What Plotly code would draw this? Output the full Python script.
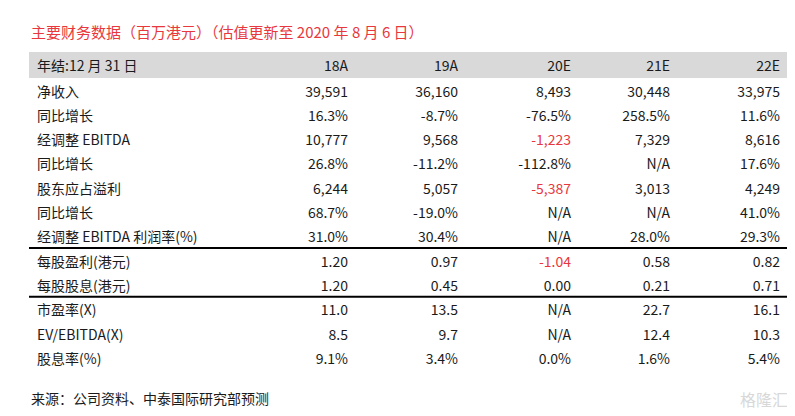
import plotly.graph_objects as go

W, H = 795, 416

header = ["年结:12 月 31 日", "18A", "19A", "20E", "21E", "22E"]
labels = ["净收入", "同比增长", "经调整 EBITDA", "同比增长", "股东应占溢利", "同比增长",
          "经调整 EBITDA 利润率(%)", "每股盈利(港元)", "每股股息(港元)",
          "市盈率(X)", "EV/EBITDA(X)", "股息率(%)"]
y18a = ["39,591", "16.3%", "10,777", "26.8%", "6,244", "68.7%", "31.0%", "1.20", "1.20", "11.0", "8.5", "9.1%"]
y19a = ["36,160", "-8.7%", "9,568", "-11.2%", "5,057", "-19.0%", "30.4%", "0.97", "0.45", "13.5", "9.7", "3.4%"]
y20e = ["8,493", "-76.5%", "-1,223", "-112.8%", "-5,387", "N/A", "N/A", "-1.04", "0.00", "N/A", "N/A", "0.0%"]
y21e = ["30,448", "258.5%", "7,329", "N/A", "3,013", "N/A", "28.0%", "0.58", "0.21", "22.7", "12.4", "1.6%"]
y22e = ["33,975", "11.6%", "8,616", "17.6%", "4,249", "41.0%", "29.3%", "0.82", "0.71", "16.1", "10.3", "5.4%"]
red_cells = {"-1,223", "-5,387", "-1.04"}

cols = [labels, y18a, y19a, y20e, y21e, y22e]
colors = [["#1a1a1a"] * len(labels)] + [["#e8383d" if v in red_cells else "#1a1a1a" for v in c] for c in cols[1:]]

font = "Noto Sans CJK SC, Liberation Serif"
x0, x1 = 21, 780
off = -8
top, hh, rh = 52 + off, 26, 24.3

fig = go.Figure(go.Table(
    domain=dict(x=[x0 / W, x1 / W], y=[0, 1 - top / H]),
    columnwidth=[224, 103, 110, 113, 99, 110],
    header=dict(values=header, fill_color="#d9d9d9", line_color="rgba(0,0,0,0)",
                align=["left"] + ["right"] * 5, height=hh,
                font=dict(family=font, size=14, color="#1a1a1a")),
    cells=dict(values=cols, fill_color="white", line_color="rgba(0,0,0,0)",
               align=["left"] + ["right"] * 5, height=rh,
               font=dict(family=font, size=14, color=colors)),
))

for py in [top + hh + 7 * rh, top + hh + 9 * rh]:
    fig.add_shape(type="line", xref="paper", yref="paper", x0=x0 / W, x1=x1 / W,
                  y0=1 - py / H, y1=1 - py / H, line=dict(color="black", width=2))

fig.add_annotation(text="主要财务数据（百万港元）（估值更新至 2020 年 8 月 6 日）", xref="paper", yref="paper",
                   x=21 / W, y=1 - (31 + off) / H, xanchor="left", yanchor="middle", showarrow=False,
                   font=dict(family=font, size=15, color="#e8383d"))
fig.add_annotation(text="来源：公司资料、中泰国际研究部预测", xref="paper", yref="paper",
                   x=21 / W, y=1 - (398 + off) / H, xanchor="left", yanchor="middle", showarrow=False,
                   font=dict(family=font, size=14, color="#1a1a1a"))
fig.add_annotation(text="格隆汇", xref="paper", yref="paper",
                   x=782 / W, y=1 - (399 + off) / H, xanchor="right", yanchor="middle", showarrow=False,
                   font=dict(family=font, size=16, color="#d8d8d8"))

fig.update_layout(width=W, height=H, margin=dict(l=0, r=0, t=0, b=0),
                  paper_bgcolor="white", plot_bgcolor="white")
fig.write_html("out.html")
